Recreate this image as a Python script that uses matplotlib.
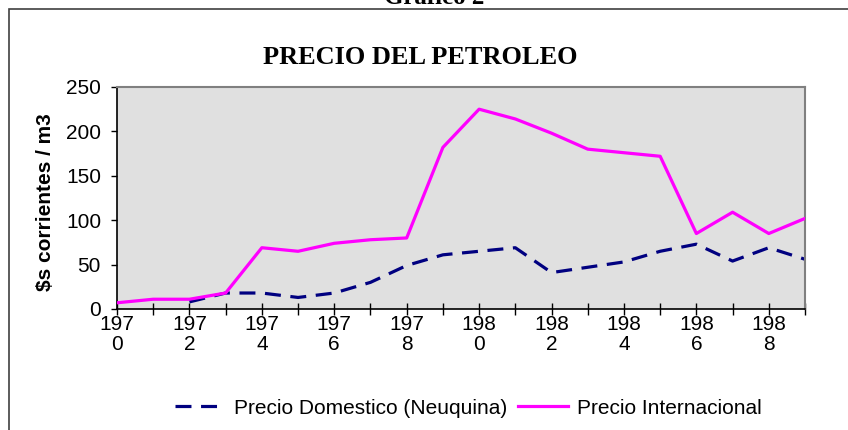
import numpy as np
import matplotlib.pyplot as plt
from matplotlib.patches import Rectangle

# datos
years = list(range(1970, 1990))
precio_internacional = [7, 11, 11, 18, 69, 65, 74, 78, 80, 182,
                        225, 214, 198, 180, 176, 172, 85, 109, 85, 102]
precio_domestico = [np.nan, np.nan, 8, 18, 18, 13, 18, 30, 49, 61,
                    65, 69, 41, 47, 53, 65, 73, 54, 69, 56]
tick_labels = [f"{str(y)[:3]}\n{str(y)[3]}" if y % 2 == 0 else "" for y in years]

plt.rcParams['font.family'] = ['Liberation Sans', 'DejaVu Sans']

fig = plt.figure(figsize=(8.48, 4.30), dpi=100)
ax = fig.add_axes([117 / 848, 1 - 309 / 430, (805 - 117) / 848, (309 - 87) / 430])

x = np.arange(len(years))
ax.plot(x, precio_domestico, color="#000080", lw=2.3, dashes=(5, 3),
        label="Precio Domestico (Neuquina)", zorder=2)
ax.plot(x, precio_internacional, color="#FF00FF", lw=2.3,
        label="Precio Internacional", zorder=3)

ax.set_facecolor("#E0E0E0")
ax.set_xlim(0, len(years) - 1)
ax.set_ylim(0, 250)
ax.set_yticks(range(0, 251, 50))
ax.set_xticks(x)
ax.set_xticklabels(tick_labels, linespacing=1.1)
ax.tick_params(axis="x", direction="inout", length=8, width=1, pad=0,
               labelsize=15)
ax.tick_params(axis="y", direction="out", length=4.5, width=1, pad=7,
               labelsize=15)

for side in ("top", "right"):
    ax.spines[side].set_color("#808080")
    ax.spines[side].set_linewidth(1.5)
for side in ("left", "bottom"):
    ax.spines[side].set_color("black")
    ax.spines[side].set_linewidth(1.2)

ax.set_ylabel("$s corrientes / m3", fontsize=15, fontweight="bold")
ax.yaxis.set_label_coords(-0.09, 0.48)

fig.text(0.495, 1 - 57 / 430, "PRECIO DEL PETROLEO", ha="center", va="center",
         family="Liberation Serif", fontweight="bold", fontsize=19)
# titulo de la pagina, cortado arriba como en el original
fig.text(0.512, 1 - 4 / 430, "Gráfico 2", ha="center", va="baseline",
         family="Liberation Serif", fontweight="bold", fontsize=18)

# marco de la hoja
fig.patches.append(Rectangle((9 / 848, -0.1), 1.0, 1 - 9 / 430 + 0.1,
                             transform=fig.transFigure, fill=False,
                             edgecolor="#404040", lw=1.2))

fig.legend(loc="center", bbox_to_anchor=(0.552, 1 - 408 / 430), ncol=2,
           frameon=False, fontsize=15, handlelength=2.4, columnspacing=0.5,
           handletextpad=0.45)

fig.savefig("out.png", dpi=100)
